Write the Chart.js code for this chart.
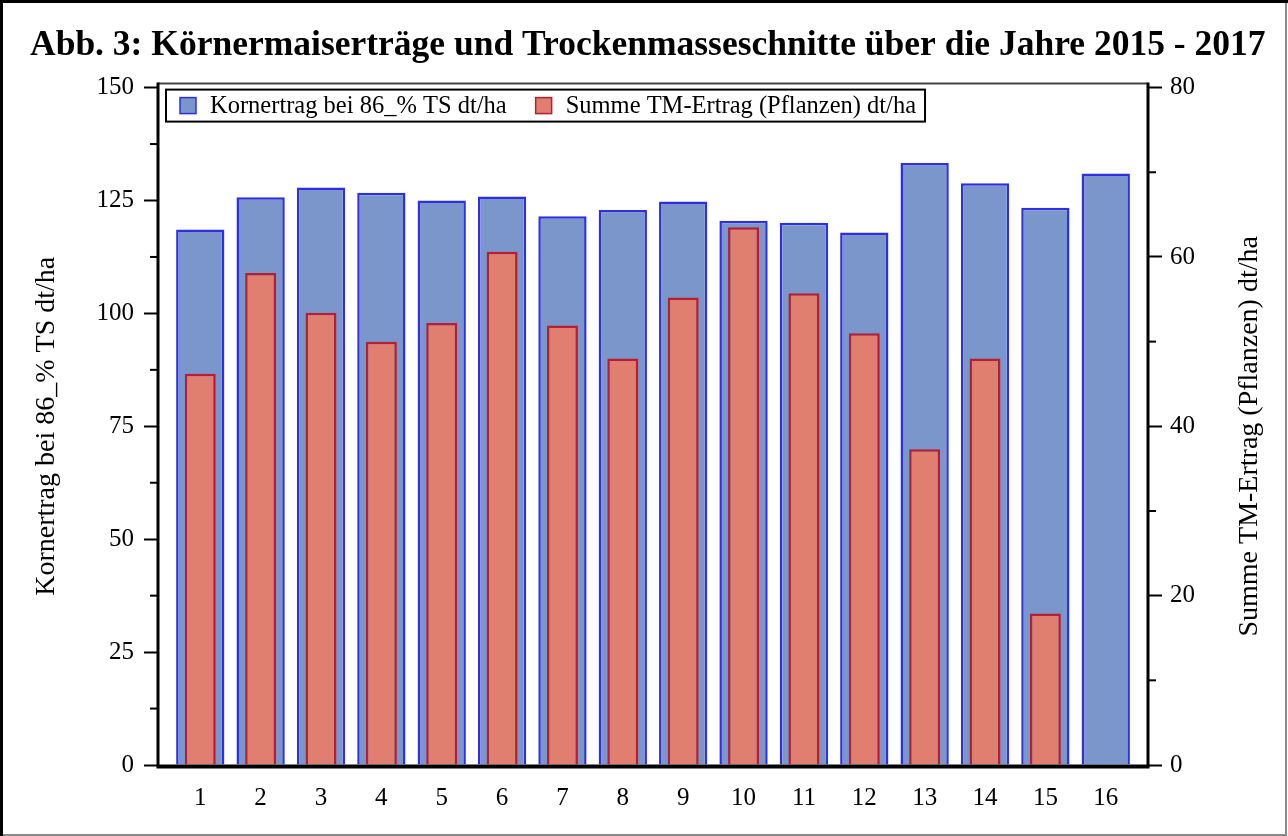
<!DOCTYPE html>
<html><head><meta charset="utf-8">
<script src="https://cdn.jsdelivr.net/npm/chart.js@4.4.1/dist/chart.umd.min.js"></script>
<style>html,body{margin:0;padding:0;background:#fff;overflow:hidden}canvas{display:block}</style>
</head><body>
<canvas id="c" width="1288" height="836"></canvas>
<script>
const chartTitle = 'Abb. 3: Körnermaiserträge und Trockenmasseschnitte über die Jahre 2015 - 2017';
const categories = [1, 2, 3, 4, 5, 6, 7, 8, 9, 10, 11, 12, 13, 14, 15, 16];
const kornertrag = [118.6, 125.7, 127.9, 126.7, 125.0, 125.9, 121.5, 122.9, 124.8, 120.5, 120.1, 117.9, 133.3, 128.8, 123.4, 131.0];
const tmErtrag = [46.2, 58.1, 53.4, 50.0, 52.2, 60.6, 51.9, 48.0, 55.2, 63.5, 55.7, 51.0, 37.3, 48.0, 17.9, null];
const leftTicks = [0, 25, 50, 75, 100, 125, 150];
const rightTicks = [0, 20, 40, 60, 80];
const labelKorn = 'Kornertrag bei 86_% TS dt/ha';
const labelTM = 'Summe TM-Ertrag (Pflanzen) dt/ha';

const FONT = "'Liberation Serif', 'Times New Roman', serif";

const framePlugin = {
  id: 'framePlugin',
  afterDraw(chart) {
    const ctx = chart.ctx, a = chart.chartArea;
    const y = chart.scales.y, y1 = chart.scales.y1;
    ctx.save();
    // minor ticks
    ctx.strokeStyle = '#000'; ctx.lineWidth = 2;
    for (let i = 0; i < leftTicks.length - 1; i++) {
      const p = y.getPixelForValue((leftTicks[i] + leftTicks[i + 1]) / 2);
      ctx.beginPath(); ctx.moveTo(a.left - 8, p); ctx.lineTo(a.left, p); ctx.stroke();
    }
    for (let i = 0; i < rightTicks.length - 1; i++) {
      const p = y1.getPixelForValue((rightTicks[i] + rightTicks[i + 1]) / 2);
      ctx.beginPath(); ctx.moveTo(a.right, p); ctx.lineTo(a.right + 8, p); ctx.stroke();
    }
    // top frame
    ctx.strokeStyle = '#444'; ctx.lineWidth = 2;
    ctx.beginPath(); ctx.moveTo(a.left, a.top - 4); ctx.lineTo(a.right, a.top - 4); ctx.stroke();
    // left & right axis lines
    ctx.strokeStyle = '#000'; ctx.lineWidth = 3;
    ctx.beginPath(); ctx.moveTo(a.left, a.top - 5); ctx.lineTo(a.left, a.bottom + 2); ctx.stroke();
    ctx.beginPath(); ctx.moveTo(a.right, a.top - 5); ctx.lineTo(a.right, a.bottom + 2); ctx.stroke();
    // bottom axis
    ctx.lineWidth = 4;
    ctx.beginPath(); ctx.moveTo(a.left - 1.5, a.bottom + 1.5); ctx.lineTo(a.right + 1.5, a.bottom + 1.5); ctx.stroke();
    // right axis title (reads bottom to top)
    ctx.save();
    ctx.translate(1250, (a.top + a.bottom) / 2 + 10);
    ctx.rotate(-Math.PI / 2);
    ctx.font = '28px ' + FONT;
    ctx.fillStyle = '#000';
    ctx.textAlign = 'center';
    ctx.textBaseline = 'middle';
    ctx.fillText(labelTM, 0, 0);
    ctx.restore();
    // outer picture border
    ctx.lineWidth = 3; ctx.strokeStyle = '#000';
    ctx.beginPath(); ctx.moveTo(1.5, 836); ctx.lineTo(1.5, 1.5); ctx.lineTo(1288, 1.5); ctx.stroke();
    ctx.lineWidth = 2; ctx.strokeStyle = '#8a8a8a';
    ctx.beginPath(); ctx.moveTo(1286, 3); ctx.lineTo(1286, 835); ctx.lineTo(3, 835); ctx.stroke();
    ctx.restore();
  }
};

const legendPlugin = {
  id: 'legendPlugin',
  afterDatasetsDraw(chart) {
    const ctx = chart.ctx, a = chart.chartArea;
    const x0 = a.left + 8, top = a.top + 2, h = 32;
    ctx.save();
    ctx.font = '24.5px ' + FONT;
    ctx.textBaseline = 'middle';
    const items = chart.data.datasets;
    let x = x0 + 14;
    const pos = [];
    items.forEach(ds => {
      const w = ctx.measureText(ds.label).width;
      pos.push({ x, w, ds });
      x += 30 + w + 29;
    });
    const boxW = pos[pos.length - 1].x + 30 + pos[pos.length - 1].w + 9 - x0;
    ctx.fillStyle = '#fff';
    ctx.fillRect(x0, top, boxW, h);
    ctx.strokeStyle = '#000'; ctx.lineWidth = 2;
    ctx.strokeRect(x0, top, boxW, h);
    pos.forEach(p => {
      const cy = top + h / 2;
      ctx.fillStyle = p.ds.backgroundColor;
      ctx.fillRect(p.x, cy - 8, 16, 16);
      ctx.strokeStyle = p.ds.borderColor; ctx.lineWidth = 1.5;
      ctx.strokeRect(p.x, cy - 8, 16, 16);
      ctx.fillStyle = '#000';
      ctx.fillText(p.ds.label, p.x + 30, cy + 1);
    });
    ctx.restore();
  }
};

const tickStyle = { font: { family: FONT, size: 25 }, color: '#000' };

new Chart(document.getElementById('c'), {
  type: 'bar',
  data: {
    datasets: [
      {
        label: labelKorn,
        data: categories.map((c, i) => ({ x: c, y: kornertrag[i] })),
        yAxisID: 'y',
        backgroundColor: '#7b96cb',
        borderColor: '#2f2fe2',
        borderWidth: 2.5,
        barPercentage: 0.8,
        categoryPercentage: 1,
        grouped: false,
        order: 2
      },
      {
        label: labelTM,
        data: categories.map((c, i) => ({ x: c, y: tmErtrag[i] })),
        yAxisID: 'y1',
        backgroundColor: '#e07f6f',
        borderColor: '#b81e32',
        borderWidth: 2.5,
        barPercentage: 0.513,
        categoryPercentage: 1,
        grouped: false,
        order: 1
      }
    ]
  },
  options: {
    responsive: false,
    animation: false,
    devicePixelRatio: 1,
    layout: { padding: { top: 13, left: 30, right: 20, bottom: 0 } },
    plugins: {
      legend: { display: false },
      tooltip: { enabled: false },
      title: {
        display: true,
        text: chartTitle,
        align: 'start',
        color: '#000',
        font: { family: FONT, size: 35.5, weight: 'bold' },
        padding: { top: 12, bottom: 20 }
      }
    },
    scales: {
      x: {
        type: 'linear',
        offset: false,
        min: 0.3,
        max: 16.7,
        afterBuildTicks: s => { s.ticks = categories.map(v => ({ value: v })); },
        grid: { display: false, drawTicks: false, offset: false },
        border: { display: false },
        ticks: { ...tickStyle, padding: 18, autoSkip: false, maxRotation: 0, callback: v => String(v) },
        afterFit: s => { s.height = 71; }
      },
      y: {
        position: 'left',
        min: leftTicks[0],
        max: leftTicks[leftTicks.length - 1],
        afterBuildTicks: s => { s.ticks = leftTicks.map(v => ({ value: v })); },
        grid: { drawOnChartArea: false, drawTicks: true, tickLength: 14, tickWidth: 2, tickColor: '#000' },
        border: { display: false },
        ticks: { ...tickStyle, padding: 10 },
        title: { display: true, text: labelKorn, color: '#000', font: { family: FONT, size: 28 }, padding: 0 },
        afterFit: s => { s.width = 128; }
      },
      y1: {
        position: 'right',
        min: rightTicks[0],
        max: rightTicks[rightTicks.length - 1],
        afterBuildTicks: s => { s.ticks = rightTicks.map(v => ({ value: v })); },
        grid: { drawOnChartArea: false, drawTicks: true, tickLength: 14, tickWidth: 2, tickColor: '#000' },
        border: { display: false },
        ticks: { ...tickStyle, padding: 8 },
        title: { display: false },
        afterFit: s => { s.width = 120; }
      }
    }
  },
  plugins: [legendPlugin, framePlugin]
});
</script>
</body></html>
